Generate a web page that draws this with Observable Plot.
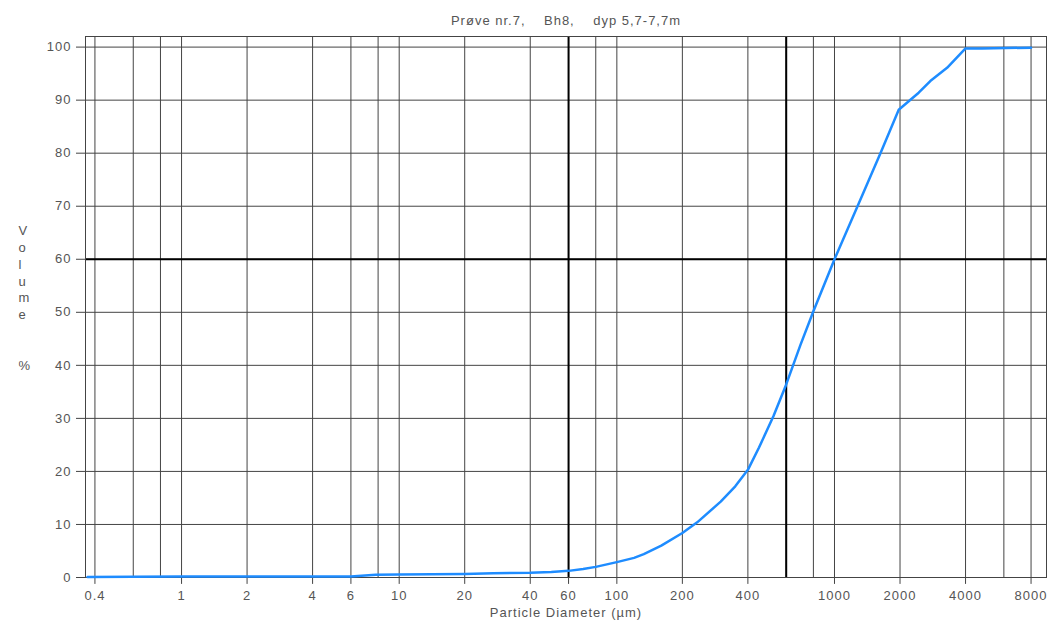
<!DOCTYPE html>
<html><head><meta charset="utf-8">
<script src="https://cdn.jsdelivr.net/npm/d3@7"></script>
<script src="https://cdn.jsdelivr.net/npm/@observablehq/plot@0.6"></script>
<style>
body{margin:0;background:#fff;}
svg text{white-space:pre;letter-spacing:1px;}
</style></head><body><div id="chart"></div>
<script>
const diameters = [0.37, 0.6, 1, 2, 4, 6, 7.8, 10, 20, 27, 40, 50, 60, 70, 80, 100, 120, 133, 160, 200, 234, 300, 350, 400, 450, 524, 600, 697, 800, 1000, 1270, 1626, 1973, 2437, 2755, 3290, 4000, 4760, 8000];
const volumes   = [0.1, 0.15, 0.2, 0.2, 0.2, 0.2, 0.5, 0.55, 0.65, 0.8, 0.9, 1.05, 1.25, 1.6, 2.0, 2.9, 3.7, 4.4, 6.0, 8.4, 10.4, 14.3, 17.2, 20.3, 24.5, 30.4, 36.4, 43.8, 50.2, 60, 69.8, 80, 88.2, 91.4, 93.6, 96.1, 99.75, 99.75, 99.9];
const xTickValues = [0.4, 1, 2, 4, 6, 10, 20, 40, 60, 100, 200, 400, 1000, 2000, 4000, 8000];
const xTickLabels = ["0.4", "1", "2", "4", "6", "10", "20", "40", "60", "100", "200", "400", "1000", "2000", "4000", "8000"];
const xGridValues = [0.4, 0.6, 0.8, 1, 2, 4, 6, 8, 10, 20, 40, 60, 80, 100, 200, 400, 600, 800, 1000, 2000, 4000, 6000, 8000];
const xBoldValues = [60, 600];
const yTickValues = [0, 10, 20, 30, 40, 50, 60, 70, 80, 90, 100];
const yBoldValues = [60];
const title = "Prøve nr.7,    Bh8,    dyp 5,7-7,7m";
const xLabel = "Particle Diameter (µm)";
const yLabel = "V\no\nl\nu\nm\ne\n\n\n%";

const data = diameters.map((d, i) => ({d, v: volumes[i]}));
const xTicks = xTickValues.map((d, i) => ({d, label: xTickLabels[i]}));

const chart = Plot.plot({
  width: 1054, height: 625,
  marginLeft: 85, marginRight: 8, marginTop: 36, marginBottom: 48,
  style: {fontFamily: "'Liberation Sans', Arial, sans-serif", fontSize: "13px", color: "#555", background: "#fff"},
  x: {type: "log", domain: [0.362, 9420], axis: null},
  y: {domain: [0, 102]},
  marks: [
    Plot.ruleX(xGridValues, {stroke: "#444", strokeWidth: 1}),
    Plot.ruleY(yTickValues, {stroke: "#444", strokeWidth: 1}),
    Plot.ruleX(xBoldValues, {stroke: "#000", strokeWidth: 2}),
    Plot.ruleY(yBoldValues, {stroke: "#000", strokeWidth: 2}),
    Plot.frame({stroke: "#444"}),
    Plot.ruleX(xTicks, {x: "d", y1: 0, y2: -1.3, stroke: "#444"}),
    Plot.text(xTicks, {x: "d", text: "label", frameAnchor: "bottom", dy: 18, lineAnchor: "middle", fill: "#555", fontSize: 13}),
    Plot.axisY(yTickValues, {tickSize: 9, tickPadding: 5, label: null, stroke: "#444"}),
    Plot.line(data, {x: "d", y: "v", stroke: "#1e8cff", strokeWidth: 2.5}),
    Plot.text([title], {frameAnchor: "top", dy: -16, lineAnchor: "middle", fill: "#555", fontSize: 13}),
    Plot.text([xLabel], {frameAnchor: "bottom", dy: 35, lineAnchor: "middle", fill: "#555", fontSize: 13}),
    Plot.text([yLabel], {frameAnchor: "left", dx: -67, dy: -10, lineAnchor: "middle", lineHeight: 1.3, fill: "#555", fontSize: 13})
  ]
});
document.getElementById("chart").append(chart);
</script>
</body></html>
